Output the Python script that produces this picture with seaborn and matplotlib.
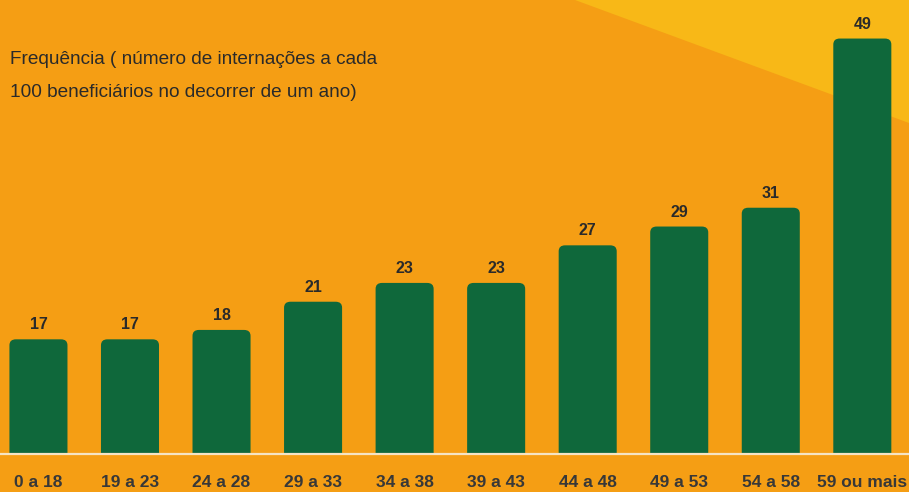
import numpy as np
import pandas as pd
import matplotlib
matplotlib.use('Agg')
import matplotlib.pyplot as plt
import seaborn as sns
from matplotlib.patches import FancyBboxPatch, Polygon

# data
faixas = ['0 a 18', '19 a 23', '24 a 28', '29 a 33', '34 a 38',
          '39 a 43', '44 a 48', '49 a 53', '54 a 58', '59 ou mais']
frequencia = [17, 17, 18, 21, 23, 23, 27, 29, 31, 49]

titulo = 'Frequência ( número de internações a cada\n100 beneficiários no decorrer de um ano)'

laranja = '#F59E14'
amarelo = '#F8B817'
verde = '#0F683B'
texto = '#2A2A2A'

sns.set_theme(style='white')
plt.rcParams['font.family'] = ['Liberation Sans', 'DejaVu Sans']

df = pd.DataFrame({'faixa': faixas, 'freq': frequencia})

fig = plt.figure(figsize=(9.09, 4.92), dpi=100, facecolor=laranja)

# yellow triangle in the top right corner (behind everything)
tri = Polygon([(575 / 909, 1), (1, 1), (1, 1 - 123 / 492)], closed=True,
              transform=fig.transFigure, facecolor=amarelo, edgecolor='none', zorder=-5)
fig.patches.append(tri)

ax = fig.add_axes([0, 38 / 492, 1, 1 - 38 / 492])
ax.set_facecolor('none')
ax.set_zorder(2)

sns.barplot(data=df, x='faixa', y='freq', color=verde, width=0.634,
            saturation=1, ax=ax)

ax.set_xlim(-0.42, 9.51)
ax.set_ylim(4.8, 53.1)

# value labels on top
ax.bar_label(ax.containers[0], labels=[str(v) for v in frequencia], padding=5,
             fontsize=11.5, fontweight='bold', color=texto)

# swap plain bars for ones with rounded tops
for p in list(ax.patches):
    x, w, h = p.get_x(), p.get_width(), p.get_height()
    p.set_visible(False)
    rb = FancyBboxPatch((x, 0), w, h, boxstyle='round,pad=0,rounding_size=0.07',
                        mutation_aspect=9.0, facecolor=verde, edgecolor='none', zorder=2)
    ax.add_patch(rb)

ax.axhline(4.8, color='#F5E4C4', lw=1.6, zorder=3, clip_on=False)

ax.set_xlabel('')
ax.set_ylabel('')
ax.set_yticks([])
ax.tick_params(axis='x', length=0, pad=15)
for lbl in ax.get_xticklabels():
    lbl.set_fontweight('bold')
    lbl.set_fontsize(12.5)
    lbl.set_color('#383838')
sns.despine(ax=ax, left=True, bottom=True)

fig.text(10 / 909, 1 - 76 / 492, titulo, ha='left', va='center', fontsize=13.7,
         color=texto, linespacing=2.3)

fig.savefig('out.png', dpi=100, facecolor=laranja)
